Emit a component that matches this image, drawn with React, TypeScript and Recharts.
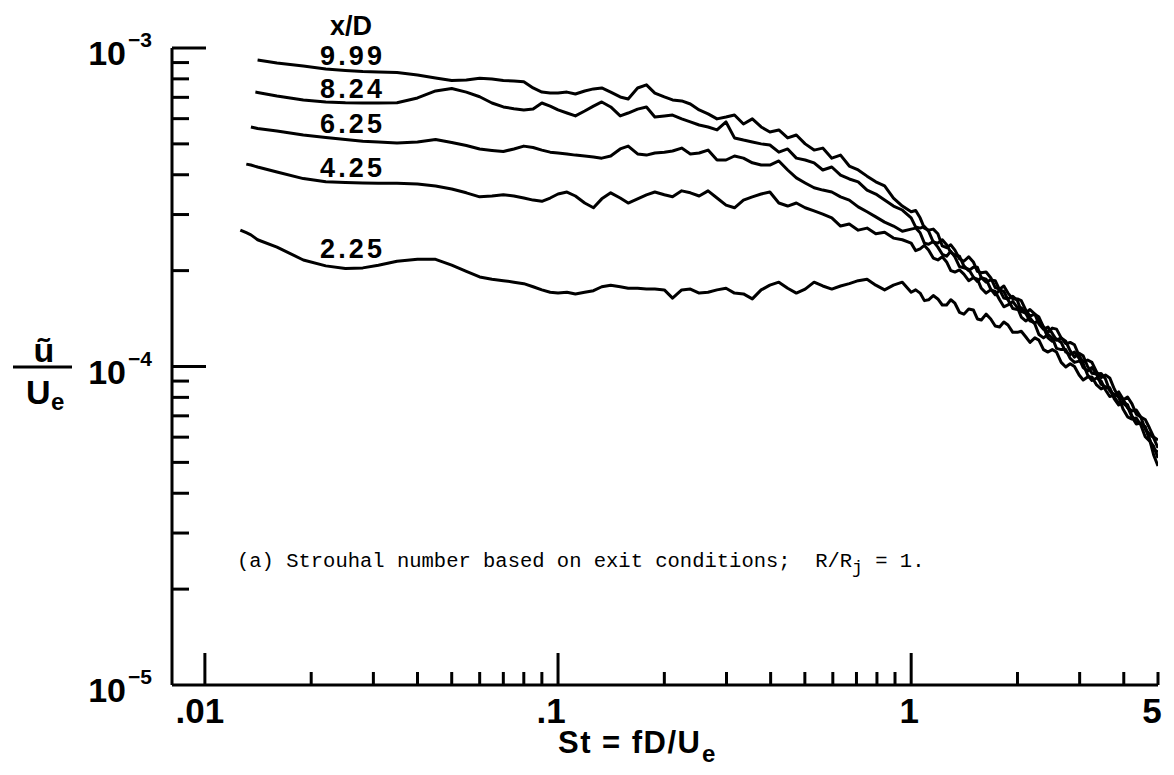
import { LineChart, Line, XAxis, YAxis } from "recharts";

// Strouhal number St = fD/Ue (shared sampling grid for all stations)
const ST = [
  0.0126, 0.0131, 0.0135, 0.0139, 0.0141, 0.016, 0.019, 0.022, 0.025, 0.028,
  0.031, 0.035, 0.04, 0.045, 0.05, 0.055, 0.06, 0.065, 0.07, 0.075,
  0.08, 0.085, 0.09, 0.095,
  0.1, 0.106, 0.112, 0.119, 0.126, 0.133, 0.141, 0.15, 0.158, 0.168,
  0.178, 0.188, 0.2, 0.211, 0.224, 0.237, 0.251, 0.266, 0.282, 0.299,
  0.316, 0.335, 0.355, 0.376, 0.398, 0.422, 0.447, 0.473, 0.501, 0.531,
  0.562, 0.596, 0.631, 0.668, 0.708, 0.75, 0.794, 0.841, 0.891, 0.944,
  1.0, 1.03, 1.06, 1.09, 1.12, 1.155, 1.19, 1.225, 1.26, 1.295,
  1.33, 1.37, 1.41, 1.455, 1.5, 1.54, 1.58, 1.63, 1.68, 1.73,
  1.78, 1.83, 1.88, 1.94, 2.0, 2.05, 2.11, 2.17, 2.24, 2.3,
  2.37, 2.44, 2.51, 2.58, 2.66, 2.74, 2.82, 2.9, 2.99, 3.07,
  3.16, 3.25, 3.35, 3.45, 3.55, 3.65, 3.76, 3.87, 3.98, 4.1,
  4.22, 4.34, 4.47, 4.6, 4.73, 4.86, 5.0,
];

// u~/Ue in units of 1e-4, one list per x/D station
const U_999 = [
  null, null, null, null, 9.17, 8.97, 8.78, 8.59, 8.5, 8.44,
  8.41, 8.37, 8.23, 8.05, 7.91, 7.94, 8.03, 7.99, 7.91, 7.88,
  7.84, 7.49, 7.27, 7.22,
  7.22, 7.27, 7.17, 7.33, 7.44, 7.49, 7.27, 7.02, 6.92, 7.49,
  7.66, 7.22, 7.02, 6.87, 6.82, 6.67, 6.39, 6.21, 5.99, 6.07,
  6.16, 5.77, 5.99, 5.65, 5.45, 5.53, 5.22, 5.33, 5.0, 4.78,
  4.85, 4.51, 4.61, 4.26, 4.14, 3.96, 3.8, 3.69, 3.38, 3.19,
  3.06, 3.09, 2.93, 2.72, 2.68, 2.7, 2.61, 2.39, 2.36, 2.41,
  2.32, 2.18, 2.14, 2.21, 2.13, 1.99, 1.97, 1.98, 1.9, 1.77,
  1.75, 1.79, 1.7, 1.63, 1.63, 1.61, 1.505, 1.44, 1.46, 1.43,
  1.33, 1.28, 1.32, 1.31, 1.23, 1.18, 1.19, 1.17, 1.08, 1.03,
  1.048, 1.03, 0.961, 0.923, 0.94, 0.921, 0.85, 0.8, 0.785, 0.802,
  0.763, 0.708, 0.694, 0.682, 0.641, 0.601, 0.588,
];

const U_824 = [
  null, null, null, 7.27, 7.25, 7.07, 6.87, 6.77, 6.73, 6.72,
  6.72, 6.73, 6.97, 7.33, 7.46, 7.27, 7.03, 6.72, 6.53, 6.45,
  6.39, 6.43, 6.72, 6.57,
  6.39, 6.25, 6.12, 6.34, 6.57, 6.77, 6.53, 6.12, 6.25, 6.43,
  6.53, 6.07, 6.12, 6.16, 5.99, 5.86, 5.73, 5.65, 5.53, 5.86,
  5.22, 5.14, 5.07, 5.0, 4.96, 4.71, 4.82, 4.51, 4.45, 4.36,
  4.14, 4.23, 3.99, 3.88, 3.8, 3.58, 3.48, 3.33, 3.19, 3.1,
  2.93, 2.74, 2.72, 2.75, 2.66, 2.46, 2.44, 2.5, 2.41, 2.28,
  2.24, 2.22, 2.07, 2.0, 2.05, 2.05, 1.9, 1.84, 1.87, 1.86,
  1.74, 1.64, 1.63, 1.66, 1.61, 1.49, 1.47, 1.51, 1.46, 1.36,
  1.31, 1.33, 1.27, 1.21, 1.23, 1.2, 1.12, 1.07, 1.1, 1.08,
  1.0, 0.953, 0.947, 0.951, 0.914, 0.839, 0.814, 0.832, 0.791, 0.742,
  0.725, 0.73, 0.694, 0.635, 0.614, 0.597, 0.555,
];

const U_625 = [
  null, null, 5.65, 5.61, 5.59, 5.49, 5.33, 5.24, 5.16, 5.1,
  5.07, 5.03, 5.07, 5.16, 5.05, 4.94, 4.82, 4.77, 4.73, 4.82,
  4.92, 4.87, 4.78, 4.71,
  4.68, 4.65, 4.61, 4.58, 4.55, 4.51, 4.58, 4.82, 4.92, 4.65,
  4.61, 4.68, 4.71, 4.75, 4.85, 4.65, 4.68, 4.78, 4.45, 4.45,
  4.58, 4.51, 4.36, 4.29, 4.29, 4.42, 4.14, 3.91, 3.77, 3.64,
  3.58, 3.53, 3.41, 3.33, 3.17, 3.06, 2.95, 2.84, 2.76, 2.66,
  2.7, 2.72, 2.63, 2.44, 2.42, 2.47, 2.37, 2.25, 2.22, 2.3,
  2.21, 2.06, 2.04, 2.02, 1.91, 1.85, 1.9, 1.88, 1.75, 1.68,
  1.74, 1.72, 1.62, 1.52, 1.51, 1.53, 1.47, 1.39, 1.37, 1.4,
  1.33, 1.23, 1.2, 1.22, 1.19, 1.11, 1.09, 1.11, 1.06, 0.992,
  0.968, 0.993, 0.947, 0.879, 0.862, 0.85, 0.802, 0.766, 0.774, 0.758,
  0.699, 0.667, 0.664, 0.646, 0.592, 0.549, 0.539,
];

const U_425 = [
  null, 4.32, 4.29, 4.25, 4.23, 4.08, 3.89, 3.8, 3.78, 3.77,
  3.76, 3.76, 3.74, 3.69, 3.61, 3.51, 3.41, 3.43, 3.46, 3.43,
  3.38, 3.33, 3.3, 3.38,
  3.48, 3.53, 3.43, 3.26, 3.15, 3.36, 3.51, 3.38, 3.26, 3.36,
  3.46, 3.53, 3.46, 3.41, 3.56, 3.51, 3.43, 3.56, 3.38, 3.21,
  3.15, 3.33, 3.41, 3.48, 3.53, 3.26, 3.19, 3.26, 3.15, 3.08,
  3.01, 2.93, 2.76, 2.8, 2.68, 2.72, 2.61, 2.64, 2.53, 2.5,
  2.44, 2.31, 2.34, 2.4, 2.32, 2.19, 2.16, 2.21, 2.13, 2.0,
  1.98, 2.01, 1.95, 1.86, 1.9, 1.88, 1.76, 1.7, 1.74, 1.72,
  1.62, 1.54, 1.56, 1.6, 1.53, 1.43, 1.39, 1.42, 1.36, 1.26,
  1.23, 1.26, 1.23, 1.14, 1.13, 1.13, 1.06, 1.03, 1.04, 1.02,
  0.94, 0.904, 0.92, 0.901, 0.844, 0.805, 0.814, 0.804, 0.736, 0.695,
  0.684, 0.689, 0.655, 0.602, 0.584, 0.562, 0.516,
];

const U_225 = [
  2.68, 2.63, 2.59, 2.53, 2.5, 2.37, 2.16, 2.07, 2.03, 2.04,
  2.08, 2.14, 2.17, 2.17, 2.08, 1.99, 1.91, 1.88, 1.86, 1.84,
  1.82, 1.78, 1.74, 1.71,
  1.7, 1.71, 1.69, 1.71, 1.73, 1.78, 1.8, 1.78, 1.76, 1.76,
  1.75, 1.75, 1.74, 1.64, 1.74, 1.75, 1.7, 1.71, 1.74, 1.76,
  1.7, 1.69, 1.63, 1.74, 1.8, 1.84, 1.76, 1.7, 1.75, 1.84,
  1.79, 1.75, 1.79, 1.82, 1.86, 1.88, 1.8, 1.74, 1.8, 1.84,
  1.71, 1.74, 1.7, 1.61, 1.62, 1.67, 1.63, 1.56, 1.56, 1.62,
  1.58, 1.48, 1.46, 1.515, 1.505, 1.41, 1.4, 1.46, 1.41, 1.34,
  1.33, 1.38, 1.35, 1.28, 1.28, 1.29, 1.24, 1.19, 1.23, 1.21,
  1.13, 1.11, 1.13, 1.11, 1.03, 0.996, 1.02, 1.0, 0.94, 0.907,
  0.927, 0.927, 0.875, 0.85, 0.862, 0.857, 0.791, 0.757, 0.768, 0.747,
  0.694, 0.66, 0.664, 0.646, 0.592, 0.528, 0.487,
];

const STATIONS = ["9.99", "8.24", "6.25", "4.25", "2.25"];
const SERIES = [U_999, U_824, U_625, U_425, U_225];

const X_TICKS = [
  0.01, 0.02, 0.03, 0.04, 0.05, 0.06, 0.07, 0.08, 0.09,
  0.1, 0.2, 0.3, 0.4, 0.5, 0.6, 0.7, 0.8, 0.9,
  1, 2, 3, 4, 5,
];
const X_MAJOR = [0.01, 0.1, 1];
const X_LABELS: [number, string, number][] = [
  [0.01, ".01", -5],
  [0.1, ".1", -7],
  [1, "1", -2],
  [5, "5", -6],
];

const Y_TICKS = [
  1e-5, 2e-5, 3e-5, 4e-5, 5e-5, 6e-5, 7e-5, 8e-5, 9e-5,
  1e-4, 2e-4, 3e-4, 4e-4, 5e-4, 6e-4, 7e-4, 8e-4, 9e-4, 1e-3,
];
const Y_LABELS: [number, string][] = [
  [1e-3, "\u22123"],
  [1e-4, "\u22124"],
  [1e-5, "\u22125"],
];

const rows = ST.map((st, i) => {
  const r: Record<string, number | null> = { st };
  STATIONS.forEach((s, j) => {
    const v = SERIES[j][i];
    r[s] = v == null ? null : v * 1e-4;
  });
  return r;
});

const near = (a: number, b: number) => Math.abs(a - b) < b * 1e-6;
const SANS = "'Liberation Sans', Arial, Helvetica, sans-serif";

function XTick(props: any) {
  const { x, y, payload } = props;
  const v = payload.value;
  const major = X_MAJOR.some((t) => near(v, t));
  const lab = X_LABELS.find(([t]) => near(v, t));
  return (
    <g>
      <line x1={x} x2={x} y1={y} y2={y - (major ? 32 : 13)} stroke="#000" strokeWidth={3} />
      {lab && (
        <text x={x + lab[2]} y={y + 38} textAnchor="middle" fontFamily={SANS} fontWeight="bold" fontSize={35} fill="#000">
          {lab[1]}
        </text>
      )}
    </g>
  );
}

function YTick(props: any) {
  const { x, y, payload } = props;
  const v = payload.value;
  const lab = Y_LABELS.find(([t]) => near(v, t));
  const len = near(v, 1e-5) ? 0 : lab ? 34 : 17;
  return (
    <g>
      {len > 0 && <line x1={x} x2={x + len} y1={y} y2={y} stroke="#000" strokeWidth={3} />}
      {lab && (
        <g fontFamily={SANS} fontWeight="bold" fill="#000">
          <text x={x - 46} y={y + 17} textAnchor="end" fontSize={34}>10</text>
          <text x={x - 44} y={y - 1} fontSize={21}>{lab[1]}</text>
        </g>
      )}
    </g>
  );
}

export default function App() {
  return (
    <div style={{ position: "absolute", left: 0, top: 0, width: 1174, height: 775, background: "#fff" }}>
      <LineChart width={1174} height={775} data={rows} margin={{ top: 48, right: 16, bottom: 0, left: 0 }}>
        <XAxis
          dataKey="st"
          type="number"
          scale="log"
          domain={[0.00807, 5]}
          allowDataOverflow
          ticks={X_TICKS}
          interval={0}
          height={90}
          tickSize={0}
          tickMargin={0}
          tickLine={false}
          axisLine={{ stroke: "#000", strokeWidth: 3 }}
          tick={(p: any) => <XTick {...p} />}
        />
        <YAxis
          type="number"
          scale="log"
          domain={[1e-5, 1e-3]}
          allowDataOverflow
          ticks={Y_TICKS}
          interval={0}
          width={172}
          tickSize={0}
          tickMargin={0}
          tickLine={false}
          axisLine={{ stroke: "#000", strokeWidth: 3 }}
          tick={(p: any) => <YTick {...p} />}
        />
        {STATIONS.map((s) => (
          <Line
            key={s}
            dataKey={s}
            type="linear"
            stroke="#000"
            strokeWidth={3}
            strokeLinejoin="round"
            dot={false}
            activeDot={false}
            isAnimationActive={false}
          />
        ))}
      </LineChart>
      <svg width={1174} height={775} style={{ position: "absolute", left: 0, top: 0, pointerEvents: "none" }}>
        <g fontFamily={SANS} fontWeight="bold" fill="#000">
          <text x={351} y={35} textAnchor="middle" fontSize={27}>x/D</text>
          <text x={320} y={65} fontSize={27} textLength={62}>9.99</text>
          <text x={320} y={98} fontSize={27} textLength={62}>8.24</text>
          <text x={320} y={133} fontSize={27} textLength={62}>6.25</text>
          <text x={320} y={177} fontSize={27} textLength={62}>4.25</text>
          <text x={320} y={258} fontSize={27} textLength={62}>2.25</text>
          <text x={44} y={362} textAnchor="middle" fontSize={34}>ũ</text>
          <line x1={13} x2={72} y1={367} y2={367} stroke="#000" strokeWidth={3} />
          <text x={26} y={404} fontSize={34}>U</text>
          <text x={51} y={410} fontSize={24}>e</text>
          <text x={558} y={753} fontSize={31} textLength={142}>St = fD/U</text>
          <text x={702} y={762} fontSize={24}>e</text>
        </g>
        <text
          x={237}
          y={567}
          fontFamily="'Liberation Mono', 'Courier New', monospace"
          fontSize={20.5}
          fill="#000"
          style={{ whiteSpace: "pre" }}
        >
          {"(a) Strouhal number based on exit conditions;  R/R"}
          <tspan dy={6} fontSize={18}>j</tspan>
          <tspan dy={-6}>{" = 1."}</tspan>
        </text>
      </svg>
    </div>
  );
}
